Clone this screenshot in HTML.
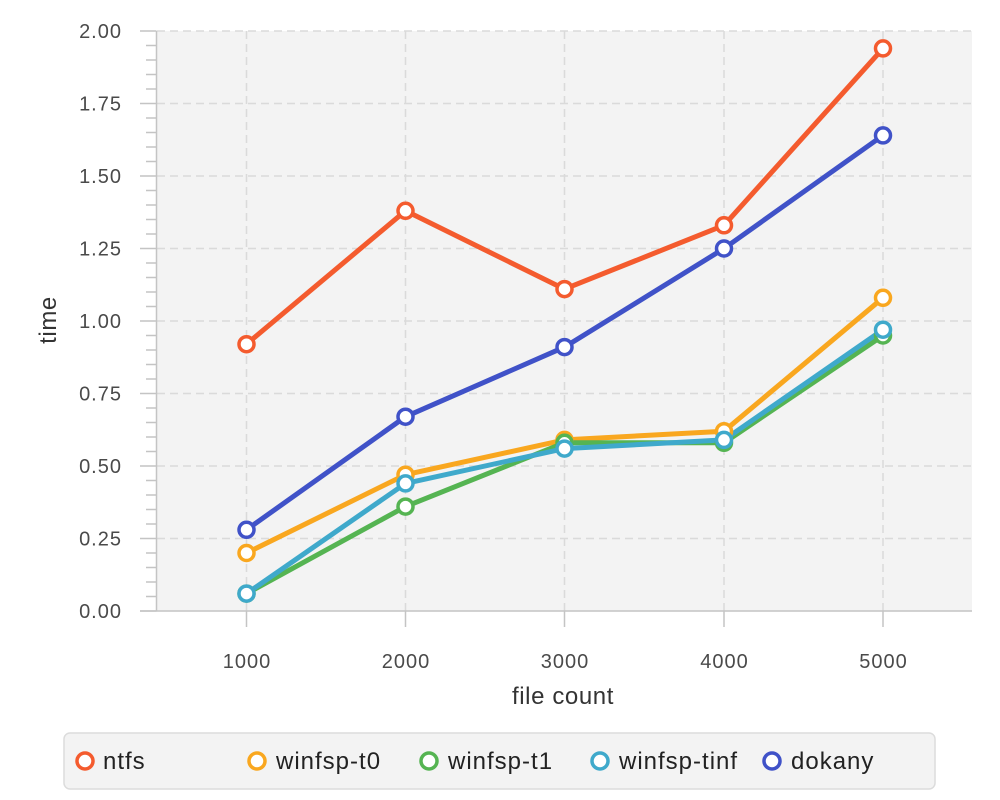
<!DOCTYPE html>
<html><head><meta charset="utf-8"><style>body{margin:0;background:#fff}svg{display:block;font-family:"Liberation Sans",sans-serif}</style></head><body>
<svg width="1000" height="800" viewBox="0 0 1000 800">
<rect x="157" y="31" width="815" height="580" fill="#f3f3f3"/>
<g stroke="#dadada" stroke-width="1.5" stroke-dasharray="8,5">
<line x1="157" x2="972" y1="31" y2="31"/><line x1="157" x2="972" y1="103.5" y2="103.5"/><line x1="157" x2="972" y1="176" y2="176"/><line x1="157" x2="972" y1="248.5" y2="248.5"/><line x1="157" x2="972" y1="321" y2="321"/><line x1="157" x2="972" y1="393.5" y2="393.5"/><line x1="157" x2="972" y1="466" y2="466"/><line x1="157" x2="972" y1="538.5" y2="538.5"/>
<line x1="246.5" x2="246.5" y1="31" y2="611"/><line x1="405.5" x2="405.5" y1="31" y2="611"/><line x1="564.5" x2="564.5" y1="31" y2="611"/><line x1="724" x2="724" y1="31" y2="611"/><line x1="883" x2="883" y1="31" y2="611"/>
</g>
<g stroke="#c4c4c4" stroke-width="1.5">
<line x1="156.5" x2="156.5" y1="31" y2="611"/><line x1="140" x2="972" y1="611" y2="611"/>
<g id="yt"></g>
<line x1="246.5" x2="246.5" y1="611" y2="627"/><line x1="405.5" x2="405.5" y1="611" y2="627"/><line x1="564.5" x2="564.5" y1="611" y2="627"/><line x1="724" x2="724" y1="611" y2="627"/><line x1="883" x2="883" y1="611" y2="627"/>
</g>
<g fill="#4a4a4a" font-size="20" letter-spacing="1" text-anchor="end">
<text x="122" y="38">2.00</text><text x="122" y="110.5">1.75</text><text x="122" y="183">1.50</text><text x="122" y="255.5">1.25</text><text x="122" y="328">1.00</text><text x="122" y="400.5">0.75</text><text x="122" y="473">0.50</text><text x="122" y="545.5">0.25</text><text x="122" y="618">0.00</text>
</g>
<g fill="#4a4a4a" font-size="20" letter-spacing="1" text-anchor="middle">
<text x="247" y="668">1000</text><text x="406" y="668">2000</text><text x="565" y="668">3000</text><text x="724.5" y="668">4000</text><text x="883.5" y="668">5000</text>
</g>
<text x="563" y="704" font-size="24" letter-spacing="0.6" fill="#333" text-anchor="middle">file count</text>
<text x="56" y="320" font-size="24" letter-spacing="0.6" fill="#333" text-anchor="middle" transform="rotate(-90 56 320)">time</text>
<g fill="none" stroke-width="5" stroke-linejoin="round">
<polyline stroke="#f45b2e" points="246.5,344.2 405.5,210.8 564.5,289.1 724,225.3 883,48.4"/>
<polyline stroke="#f9a71f" points="246.5,553 405.5,474.7 564.5,439.9 724,431.2 883,297.8"/>
<polyline stroke="#55b452" points="246.5,593.6 405.5,506.6 564.5,442.8 724,442.8 883,335.5"/>
<polyline stroke="#3fa9cb" points="246.5,593.6 405.5,483.4 564.5,448.6 724,439.9 883,329.7"/>
<polyline stroke="#4052c8" points="246.5,529.8 405.5,416.7 564.5,347.1 724,248.5 883,135.4"/>
</g>
<g fill="#fff" stroke-width="3.5">
<g stroke="#f45b2e"><circle cx="246.5" cy="344.2" r="7.5"/><circle cx="405.5" cy="210.8" r="7.5"/><circle cx="564.5" cy="289.1" r="7.5"/><circle cx="724" cy="225.3" r="7.5"/><circle cx="883" cy="48.4" r="7.5"/></g>
<g stroke="#f9a71f"><circle cx="246.5" cy="553" r="7.5"/><circle cx="405.5" cy="474.7" r="7.5"/><circle cx="564.5" cy="439.9" r="7.5"/><circle cx="724" cy="431.2" r="7.5"/><circle cx="883" cy="297.8" r="7.5"/></g>
<g stroke="#55b452"><circle cx="246.5" cy="593.6" r="7.5"/><circle cx="405.5" cy="506.6" r="7.5"/><circle cx="564.5" cy="442.8" r="7.5"/><circle cx="724" cy="442.8" r="7.5"/><circle cx="883" cy="335.5" r="7.5"/></g>
<g stroke="#3fa9cb"><circle cx="246.5" cy="593.6" r="7.5"/><circle cx="405.5" cy="483.4" r="7.5"/><circle cx="564.5" cy="448.6" r="7.5"/><circle cx="724" cy="439.9" r="7.5"/><circle cx="883" cy="329.7" r="7.5"/></g>
<g stroke="#4052c8"><circle cx="246.5" cy="529.8" r="7.5"/><circle cx="405.5" cy="416.7" r="7.5"/><circle cx="564.5" cy="347.1" r="7.5"/><circle cx="724" cy="248.5" r="7.5"/><circle cx="883" cy="135.4" r="7.5"/></g>
</g>
<rect x="64" y="733" width="871" height="56" rx="6" fill="#f3f3f3" stroke="#dcdcdc" stroke-width="1.5"/>
<g fill="#fff" stroke-width="3.5">
<circle cx="85" cy="761" r="8" stroke="#f45b2e"/><circle cx="257" cy="761" r="8" stroke="#f9a71f"/><circle cx="429" cy="761" r="8" stroke="#55b452"/><circle cx="600" cy="761" r="8" stroke="#3fa9cb"/><circle cx="772" cy="761" r="8" stroke="#4052c8"/>
</g>
<g fill="#222" font-size="24" letter-spacing="1">
<text x="103" y="769">ntfs</text><text x="276" y="769">winfsp-t0</text><text x="448" y="769">winfsp-t1</text><text x="619" y="769">winfsp-tinf</text><text x="791" y="769">dokany</text>
</g>
</svg>
<script>
var g=document.getElementById('yt'),s='';
for(var i=0;i<=40;i++){var y=611-i*14.5;var x1=(i%5==0)?140:146;s+='<line x1="'+x1+'" x2="156.5" y1="'+y+'" y2="'+y+'"/>';}
g.innerHTML=s;
</script>
</body></html>
